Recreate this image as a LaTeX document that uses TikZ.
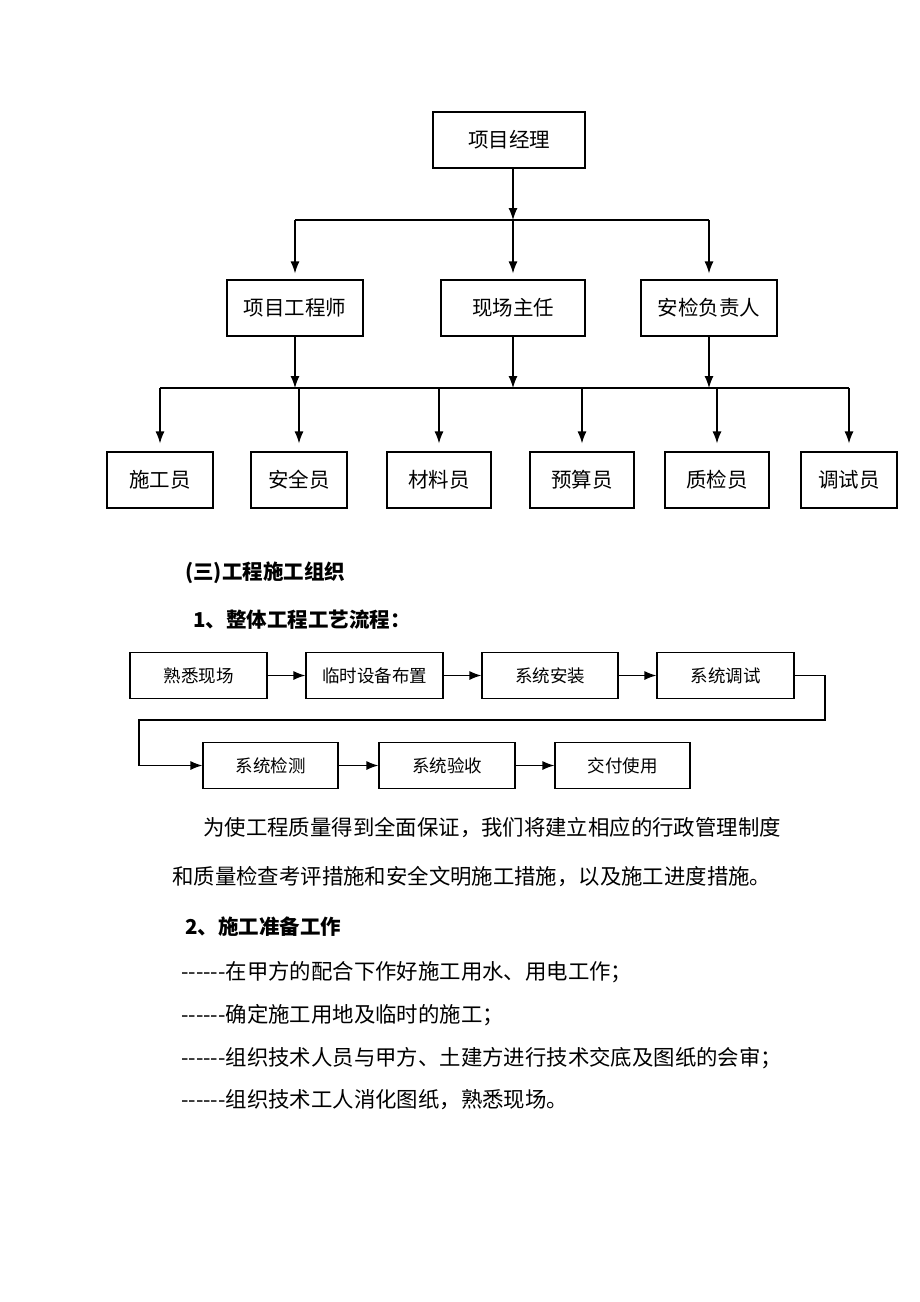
\documentclass[tikz,border=0pt]{standalone}
\usepackage{fontspec}
\setmainfont{Noto Sans CJK SC}[Ligatures=TeXOff]
\usetikzlibrary{arrows.meta}
\tikzset{
  box/.style={draw, line width=1.2pt, inner sep=0pt, minimum height=56pt, font=\fontsize{20.5}{24}\selectfont},
  flowbox/.style={draw, line width=1.2pt, inner sep=0pt, minimum width=136pt, minimum height=46pt, font=\fontsize{17.5}{21}\selectfont},
  link/.style={-{Latex[length=12pt,width=9pt]}, line width=1.2pt},
  bus/.style={line width=1.2pt},
  txt/.style={anchor=west, inner sep=0pt, font=\fontsize{21.4}{25}\selectfont},
  head/.style={anchor=west, inner sep=0pt, font=\fontsize{20.5}{25}\selectfont\bfseries},
}
\begin{document}
\begin{tikzpicture}[x=1pt, y=-1pt]
  \useasboundingbox (0,0) rectangle (920,1302);
  % organisation chart
  \node [box, minimum width=152pt] (pm) at (509,140) {项目经理};
  \node [box, minimum width=136pt] (eng) at (295,308) {项目工程师};
  \node [box, minimum width=144pt] (site) at (513,308) {现场主任};
  \node [box, minimum width=136pt] (safe) at (709,308) {安检负责人};
  \node [box, minimum width=106pt] (a1) at (160,480) {施工员};
  \node [box, minimum width=96pt] (a2) at (299,480) {安全员};
  \node [box, minimum width=104pt] (a3) at (439,480) {材料员};
  \node [box, minimum width=104pt] (a4) at (582,480) {预算员};
  \node [box, minimum width=104pt] (a5) at (717,480) {质检员};
  \node [box, minimum width=96pt] (a6) at (849,480) {调试员};
  \coordinate (bus1) at (513,220);
  \coordinate (bus2) at (513,388);
  \draw [link] (pm.south -| site) -- (bus1);
  \draw [bus] (eng |- bus1) -- (safe |- bus1);
  \foreach \n in {eng, site, safe}
    \draw [link, shorten >=6pt] (\n |- bus1) -- (\n.north);
  \foreach \n in {eng, site, safe}
    \draw [link] (\n.south) -- (\n |- bus2);
  \draw [bus] (a1 |- bus2) -- (a6 |- bus2);
  \foreach \n in {a1, a2, a3, a4, a5, a6}
    \draw [link, shorten >=8pt] (\n |- bus2) -- (\n.north);
  % headings
  \node [head] (h1) at (185,573) {(三)工程施工组织};
  \node [head] (h2) at (193,620) {1、整体工程工艺流程：};
  % process flow
  \node [flowbox, minimum width=137pt] (f1) at (198.5,675.5) {熟悉现场};
  \node [flowbox, minimum width=137pt] (f2) at (374.5,675.5) {临时设备布置};
  \node [flowbox] (f3) at (550,675.5) {系统安装};
  \node [flowbox, minimum width=137pt] (f4) at (725.5,675.5) {系统调试};
  \node [flowbox, minimum width=135pt] (f5) at (270.5,765.5) {系统检测};
  \node [flowbox] (f6) at (447,765.5) {系统验收};
  \node [flowbox, minimum width=135pt] (f7) at (622.5,765.5) {交付使用};
  \draw [link] (f1) -- (f2);
  \draw [link] (f2) -- (f3);
  \draw [link] (f3) -- (f4);
  \coordinate (turnR) at (825,720);
  \coordinate (turnL) at (139,720);
  \draw [link] (f4.east) -| (turnR) -- (turnL) |- (f5.west);
  \draw [link] (f5) -- (f6);
  \draw [link] (f6) -- (f7);
  % text
  \node [txt] (p1) at (203,828) {为使工程质量得到全面保证，我们将建立相应的行政管理制度};
  \node [txt] (p2) at (172,877) {和质量检查考评措施和安全文明施工措施，以及施工进度措施。};
  \node [head] (h3) at (185,927) {2、施工准备工作};
  \node [txt] (l1) at (181,972) {------在甲方的配合下作好施工用水、用电工作；};
  \node [txt] (l2) at (181,1015) {------确定施工用地及临时的施工；};
  \node [txt] (l3) at (181,1058) {------组织技术人员与甲方、土建方进行技术交底及图纸的会审；};
  \node [txt] (l4) at (181,1100) {------组织技术工人消化图纸，熟悉现场。};
\end{tikzpicture}
\end{document}
